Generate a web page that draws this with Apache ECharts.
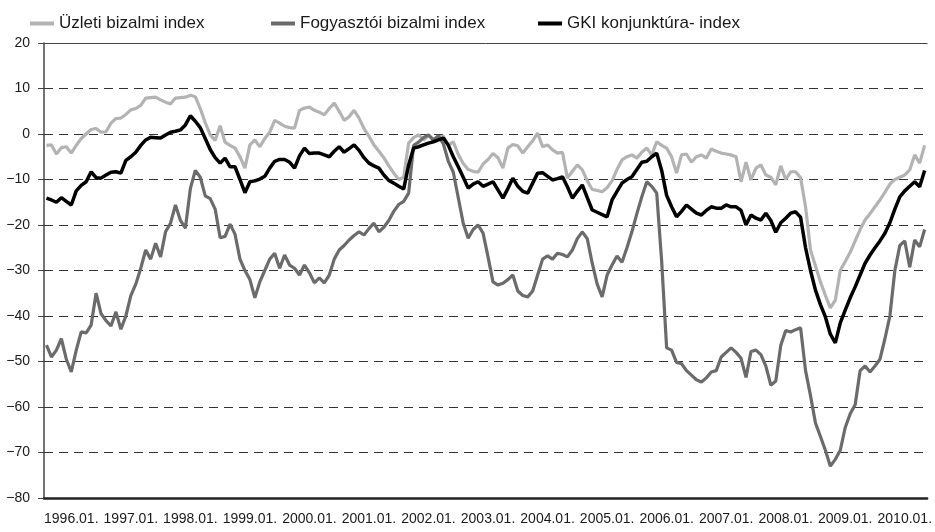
<!DOCTYPE html>
<html>
<head>
<meta charset="utf-8">
<script src="https://cdn.jsdelivr.net/npm/echarts@6/dist/echarts.min.js"></script>
<style>
  html, body { margin: 0; padding: 0; background: #fff; }
  #chart { width: 935px; height: 532px; }
</style>
</head>
<body>
<div id="chart"></div>
<script>
// havi adatok 1996.01 - 2010.10
var startYear = 1996;
var monthCount = 178;

var uzleti = [
  -2.5, -2.4, -4.4, -3, -2.8, -4.2, -2.5, -1, 0, 1, 1.2, 0.4,
  0.5, 2.4, 3.4, 3.5, 4.3, 5.3, 5.6, 6.3, 7.9, 8, 8.1, 7.5,
  7, 6.6, 7.9, 8, 8.1, 8.5, 8.2, 5.6, 2.5, -0.2, -1.4, 1.8,
  -1.8, -2.5, -3.1, -5, -7.5, -2.4, -1.3, -2.8, -1, 0.4, 3, 2.4,
  1.7, 1.4, 1.3, 5.2, 5.7, 5.9, 5.2, 4.8, 4.2, 5.6, 6.8, 5,
  3, 3.8, 5.2, 3.5, 1.2, -0.5, -2.4, -3.8, -5.2, -7, -8.6, -10,
  -9.5, -2, -0.8, -0.2, -1.3, -0.4, -1.3, -0.6, -0.5, -2.5, -1.7, -4.5,
  -6.5, -7.8, -8.2, -8.4, -6.6, -5.6, -4.3, -5.2, -7.5, -3.1, -2.3, -2.6,
  -4.2, -2.8, -1.5, 0.2, -2.8, -2.4, -3.5, -4.2, -4, -9.7, -8.2, -6.8,
  -7.9, -10.3, -12.2, -12.4, -12.7, -11.8, -10.3, -7.8, -5.7, -5, -4.6, -5.3,
  -4, -3.1, -4.6, -1.7, -2.5, -3.1, -5, -8.6, -4.6, -4.4, -6.2, -5,
  -4.6, -5.3, -3.3, -3.8, -4.2, -4.4, -4.6, -5, -10.5, -6.2, -10.1, -7.5,
  -6.8, -9, -9.5, -11.2, -7, -10, -8.3, -8.3, -9.6, -16, -25.5, -29,
  -32.5, -35.5, -38.2, -36.5, -30, -28, -26, -23.5, -21, -18.9, -17.5, -16,
  -14.5, -12.8, -11, -10, -9.5, -9, -7.9, -4.6, -6.4, -2.5
];

var fogyasztoi = [
  -46.4, -49, -47.5, -45, -49.5, -52.3, -47.5, -43.5, -43.7, -42, -35, -39.5,
  -41, -42.2, -39.1, -42.9, -40, -35.5, -33, -29.5, -25.5, -27.5, -24, -27,
  -21.5, -19.6, -15.6, -19, -20.7, -12, -8, -9.5, -13.6, -14.2, -16.5, -22.8,
  -22.5, -19.8, -22, -27.5, -30, -32, -36, -32.5, -30, -27.5, -26.2, -29.5,
  -26.6, -28.8, -29.5, -31, -28.8, -30.5, -32.7, -31.6, -32.7, -31, -27.5, -25.5,
  -24.5, -23.3, -22.3, -21.5, -22.2, -20.8, -19.6, -21.5, -20.5, -19, -17, -15.5,
  -14.8, -13, -2.5, -1.8, -0.8, -0.2, -1.3, -0.4, -2.2, -6, -8.4, -14,
  -19.6, -22.9, -21, -20, -21.8, -27, -32.5, -33.2, -32.8, -32, -31, -34.5,
  -35.5, -35.8, -34.5, -31, -27.5, -26.8, -27.5, -26.2, -26.5, -27, -25.5, -23,
  -21.5, -23, -28.4, -33, -35.8, -31, -28.8, -26.8, -28.2, -25, -21.5, -17.5,
  -13.8, -10.5, -11.5, -13, -28, -47, -47.5, -50.2, -50.5, -52, -53, -54,
  -54.5, -53.6, -52.3, -52, -49, -48, -47, -48, -49.3, -53.5, -47.8, -47.5,
  -48.5, -51, -55.2, -54.3, -46.5, -43.2, -43.5, -43, -42.6, -52, -57.5, -63.5,
  -66.5, -69.5, -73, -71.5, -69.5, -64.5, -61.5, -59.5, -52, -51, -52.3, -51,
  -49.5, -45, -40, -30, -24.5, -23.5, -29.3, -23.3, -24.8, -21
];

var gki = [
  -14.1, -14.5, -15, -14, -14.8, -15.6, -12.5, -11.3, -10.5, -8.3, -9.6, -9.7,
  -9, -8.4, -8.3, -8.6, -5.8, -5, -4, -2.5, -1.3, -0.7, -0.8, -0.9,
  -0.2, 0.4, 0.6, 0.9, 2, 4, 2.8, 1.4, -1, -3.4, -5.2, -6.4,
  -5.3, -7.2, -7.2, -10, -12.9, -10.5, -10.3, -9.9, -9.3, -7.5, -6, -5.6,
  -5.6, -6.2, -7.5, -4.8, -3.1, -4.3, -4.2, -4.2, -4.6, -5, -3.8, -2.8,
  -4, -3.2, -2.4, -3.6, -5.2, -6.4, -7, -7.5, -9, -10.2, -10.8, -11.5,
  -12.1, -6.8, -3.1, -2.8, -2.4, -2, -1.7, -1.3, -0.9, -2.5, -5, -7.2,
  -9.5, -11.9, -11, -10.5, -11.5, -11, -10.5, -12.3, -14.1, -12, -9.7, -11.5,
  -12.6, -13, -10.8, -8.6, -8.5, -9.3, -10.1, -9.8, -9.4, -11.6, -14.1, -12.6,
  -11.2, -14, -16.7, -17.2, -17.7, -18.2, -14.5, -12.6, -10.8, -10, -9.4, -7.8,
  -6.2, -6, -5, -4.2, -8, -13.5, -16, -18.2, -17, -15.6, -16.5, -17.4,
  -17.8, -16.8, -16, -16.3, -16.3, -15.6, -16, -16, -16.8, -20, -17.8, -18.5,
  -18.9, -17.4, -19, -21.6, -19.5, -18.5, -17.4, -17.1, -18.3, -25, -30, -34.3,
  -37.5, -40.2, -44, -45.9, -41.5, -38.7, -36, -33.6, -31, -28.4, -26.6, -25,
  -23.5, -21.8, -19.5, -16.5, -13.8, -12.5, -11.5, -10.5, -11.6, -8
];

var yTicks = [-80, -70, -60, -50, -40, -30, -20, -10, 0, 10, 20];
var seriesNames = ['Üzleti bizalmi index', 'Fogyasztói bizalmi index', 'GKI konjunktúra- index'];

var months = [];
for (var i = 0; i < monthCount; i++) {
  var y = startYear + Math.floor(i / 12);
  var m = i % 12 + 1;
  months.push(y + '.' + (m < 10 ? '0' + m : m));
}

var font = "'Liberation Sans', Arial, sans-serif";

function legendAt(left, name) {
  return {
    left: left,
    top: 10,
    itemWidth: 24,
    itemHeight: 4,
    itemGap: 8,
    icon: 'rect',
    textStyle: { fontFamily: font, fontSize: 17, color: '#1a1a1a' },
    data: [name]
  };
}

var myChart = echarts.init(document.getElementById('chart'));
var option = {
  animation: false,
  backgroundColor: '#fff',
  legend: [
    legendAt(25, seriesNames[0]),
    legendAt(266, seriesNames[1]),
    legendAt(533, seriesNames[2])
  ],
  grid: { left: 44, right: 0, top: 43, bottom: 34 },
  xAxis: [{
    type: 'category',
    data: months,
    boundaryGap: true,
    axisLine: { onZero: false, lineStyle: { color: '#222', width: 2.5 } },
    axisTick: {
      length: 6,
      interval: function (index) { return index % 12 === 0; },
      lineStyle: { color: '#222', width: 1.2 }
    },
    axisLabel: {
      interval: function (index) { return index % 12 === 5; },
      formatter: function (v) { return v.slice(0, 4) + '.01.'; },
      showMinLabel: true,
      showMaxLabel: true,
      fontFamily: font,
      fontSize: 14,
      color: '#1a1a1a',
      margin: 14
    },
    splitLine: { show: false }
  }, {
    // felső keretvonal
    type: 'category',
    position: 'top',
    data: months,
    axisLine: { onZero: false, lineStyle: { color: '#444', width: 1 } },
    axisTick: { show: false },
    axisLabel: { show: false }
  }],
  yAxis: {
    type: 'value',
    min: yTicks[0],
    max: yTicks[yTicks.length - 1],
    interval: 10,
    axisLine: { show: true, lineStyle: { color: '#444', width: 1.5 } },
    axisTick: { show: true, length: 6, lineStyle: { color: '#444' } },
    axisLabel: {
      fontFamily: font,
      fontSize: 14,
      color: '#1a1a1a',
      margin: 14,
      formatter: function (v) { return v < 0 ? '\u2212' + Math.abs(v) : String(v); }
    },
    splitLine: {
      show: true,
      showMinLine: false,
      showMaxLine: false,
      lineStyle: { type: [9, 6], color: '#333', width: 1 }
    }
  },
  series: [{
    name: seriesNames[0],
    type: 'line',
    data: uzleti,
    symbol: 'none',
    itemStyle: { color: '#b3b3b3' },
    lineStyle: { color: '#b3b3b3', width: 3.2 },
    z: 2
  }, {
    name: seriesNames[1],
    type: 'line',
    data: fogyasztoi,
    symbol: 'none',
    itemStyle: { color: '#6b6b6b' },
    lineStyle: { color: '#6b6b6b', width: 3.2 },
    z: 3
  }, {
    name: seriesNames[2],
    type: 'line',
    data: gki,
    symbol: 'none',
    itemStyle: { color: '#000' },
    lineStyle: { color: '#000', width: 3.5 },
    z: 4
  }]
};

option && myChart.setOption(option);
</script>
</body>
</html>
